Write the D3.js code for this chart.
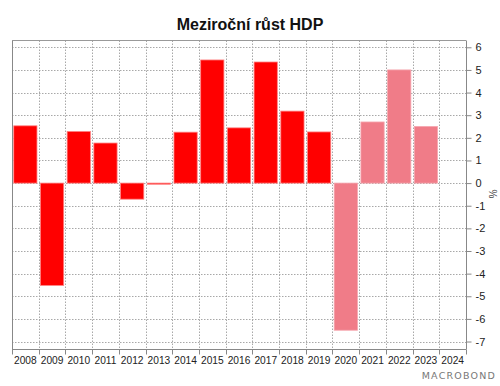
<!DOCTYPE html>
<html><head><meta charset="utf-8">
<script src="https://cdn.jsdelivr.net/npm/d3@7/dist/d3.min.js"></script>
<style>body{margin:0;background:#fff}svg{display:block}</style>
</head><body>
<svg id="c" width="500" height="386"></svg>
<script>
const years = ["2008","2009","2010","2011","2012","2013","2014","2015","2016","2017","2018","2019","2020","2021","2022","2023","2024"];
const growth = [2.53, -4.52, 2.28, 1.77, -0.71, -0.05, 2.25, 5.44, 2.44, 5.35, 3.18, 2.26, -6.5, 2.7, 5.0, 2.5, null];
const isForecastColor = [0,0,0,0,0,0,0,0,0,0,0,0,1,1,1,1,1];
const yTicks = [-7,-6,-5,-4,-3,-2,-1,0,1,2,3,4,5,6];
const title = "Meziroční růst HDP";
const unit = "%";

const svg = d3.select("#c");
const L = 12, R = 466, T = 40.5, B = 349;
const x = d3.scaleBand().domain(years).range([L, R]).paddingInner(0.13).paddingOuter(0.065);
const xb = d3.scaleLinear().domain([0, years.length]).range([L, R]);
const y = d3.scaleLinear().domain([-7.33, 6.3]).range([B, T]);

// gridlines
const g = svg.append("g");
g.selectAll(".hg").data(yTicks).join("line")
  .attr("x1", L).attr("x2", R).attr("y1", d => Math.round(y(d)) + 0.5).attr("y2", d => Math.round(y(d)) + 0.5)
  .attr("stroke", "#a8a8a8").attr("stroke-dasharray", "1.5,1.5").attr("stroke-width", 1);
g.selectAll(".vg").data(d3.range(1, years.length)).join("line")
  .attr("x1", d => Math.round(xb(d)) + 0.5).attr("x2", d => Math.round(xb(d)) + 0.5)
  .attr("y1", T).attr("y2", B)
  .attr("stroke", "#a8a8a8").attr("stroke-dasharray", "1.5,1.5").attr("stroke-width", 1);

// bars
const data = years.map((yr, i) => ({yr, v: growth[i], c: isForecastColor[i]})).filter(d => d.v !== null);
svg.append("g").selectAll("rect").data(data).join("rect")
  .attr("x", d => x(d.yr))
  .attr("width", x.bandwidth())
  .attr("y", d => y(Math.max(0, d.v)))
  .attr("height", d => Math.max(1, Math.abs(y(d.v) - y(0))))
  .attr("fill", d => d.c ? "#f07c88" : "#ff0000")
  .attr("stroke", d => d.c ? "#f5a5ad" : "#ff8080")
  .attr("stroke-width", 0.8);

// frame
svg.append("line").attr("x1", L + 0.5).attr("x2", L + 0.5).attr("y1", T).attr("y2", B).attr("stroke", "#888");
svg.append("line").attr("x1", L).attr("x2", R).attr("y1", T).attr("y2", T).attr("stroke", "#999");

// right axis
const ya = d3.axisRight(y).tickValues(yTicks).tickSize(5).tickPadding(4).tickFormat(d3.format("d"));
const yg = svg.append("g").attr("transform", `translate(${R + 0.5},0)`).call(ya);
yg.select(".domain").attr("stroke", "#888").attr("d", `M0,${T}V${B}`);
yg.selectAll(".tick line").attr("stroke", "#888");
yg.selectAll(".tick text").attr("font-family", "Liberation Sans, Arial, sans-serif").attr("font-size", 11).attr("fill", "#222")
  .text(d => d < 0 ? "-" + Math.abs(d) : d);

// bottom axis
const xg = svg.append("g").attr("transform", `translate(0,${B + 0.5})`);
xg.append("line").attr("x1", L).attr("x2", R + 0.5).attr("stroke", "#888");
xg.selectAll(".tk").data(d3.range(0, years.length + 1)).join("line")
  .attr("x1", d => Math.round(xb(d)) + 0.5).attr("x2", d => Math.round(xb(d)) + 0.5)
  .attr("y1", 0).attr("y2", 5).attr("stroke", "#888");
const xa = d3.axisBottom(x).tickSize(0).tickPadding(0);
const xl = svg.append("g").attr("transform", `translate(0,${B})`).call(xa);
xl.select(".domain").remove();
xl.selectAll(".tick text").attr("font-family", "Liberation Sans, Arial, sans-serif").attr("font-size", 10.2).attr("fill", "#222").attr("dy", "1.45em");

// title
svg.append("text").attr("x", 250).attr("y", 30).attr("text-anchor", "middle")
  .attr("font-family", "Liberation Sans, Arial, sans-serif").attr("font-weight", "bold").attr("font-size", 16).attr("fill", "#111")
  .text(title);

// unit
svg.append("text").attr("transform", `translate(489,194) rotate(90)`).attr("text-anchor", "middle")
  .attr("font-family", "Liberation Sans, Arial, sans-serif").attr("font-size", 10).attr("fill", "#444").text(unit);

// logo
svg.append("text").attr("x", 496).attr("y", 379).attr("text-anchor", "end")
  .attr("font-family", "DejaVu Sans, sans-serif").attr("font-size", 9.5).attr("letter-spacing", 1.2).attr("fill", "#777")
  .text("MACROBOND");
</script>
</body></html>
